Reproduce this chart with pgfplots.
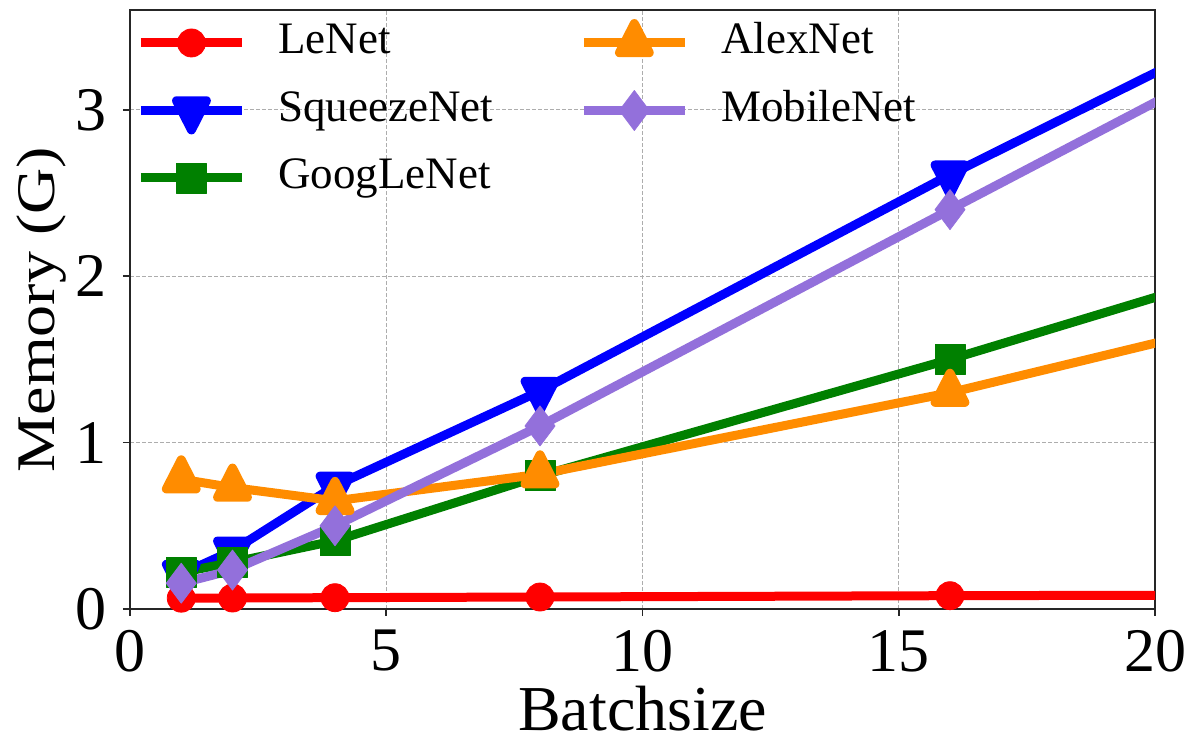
\documentclass[border=0pt]{standalone}
\usepackage{fontspec}
\setmainfont{Liberation Serif}
\usepackage{pgfplots}
\pgfplotsset{compat=1.18}

\definecolor{netred}{HTML}{FF0000}
\definecolor{netblue}{HTML}{0000FF}
\definecolor{netgreen}{HTML}{008000}
\definecolor{netorange}{HTML}{FF8C00}
\definecolor{netpurple}{HTML}{9370DB}

\pgfplotsset{
  netline/.style={line width=4.5pt, line join=round},
  netmark/.style={mark options={solid, line width=0.4pt, fill=#1, draw=#1}},
}

\begin{document}
\begin{tikzpicture}
\begin{axis}[
  scale only axis,
  width=512.5pt, height=299.5pt,
  xmin=0, xmax=20, ymin=0, ymax=3.6,
  xtick={0,5,10,15,20}, ytick={0,1,2,3},
  xtick pos=lower, ytick pos=left,
  tick align=outside, major tick length=3.5pt,
  grid=major,
  grid style={black!32, line width=0.5pt, dash pattern=on 2pt off 1pt},
  axis line style={black!85, line width=1pt},
  tick style={black!85, line width=0.8pt},
  /pgf/number format/assume math mode=true,
  ticklabel style={font=\rmfamily\fontsize{31}{37}\selectfont},
  xticklabel style={inner sep=0pt, anchor=north, yshift=-7pt},
  yticklabel style={inner sep=0pt, anchor=east, xshift=-8pt},
  xlabel={Batchsize}, ylabel={Memory (G)},
  label style={font=\rmfamily\fontsize{32}{38}\selectfont, inner sep=0pt},
  xlabel style={at={(axis description cs:0.5,-0.2030)}, anchor=base},
  ylabel style={at={(axis description cs:-0.0732,0.5)}, anchor=base, yscale=0.85},
  legend columns=2,
  legend cell align=left,
  legend image code/.code={%
    \draw[mark repeat=2, mark phase=2] plot coordinates {(0pt,0pt) (25.25pt,0pt) (50.5pt,0pt)};},
  legend style={
    at={(axis description cs:0.0063,0.98)}, anchor=north west,
    draw=none, fill=none, inner sep=0pt, outer sep=0pt,
    font=\rmfamily\fontsize{22.5}{27}\selectfont,
    row sep=12.75pt, column sep=16pt,
    nodes={inner sep=0pt, text height=16pt, text depth=5pt},
    /tikz/every even column/.append style={column sep=43pt},
  },
]
% memory use per batch size; the last point lies beyond the visible range
\addplot[forget plot, netline, color=netred, mark=*, mark size=7pt, netmark=netred]
  coordinates {(1,0.065) (2,0.066) (4,0.068) (8,0.072) (16,0.080) (32,0.090)};
\addplot[forget plot, netline, color=netblue, mark=triangle*, mark size=8.6pt, netmark=netblue, mark options={rotate=180, yscale=1.13}]
  coordinates {(1,0.21) (2,0.35) (4,0.74) (8,1.31) (16,2.61) (32,5.06)};
\addplot[forget plot, netline, color=netgreen, mark=square*, mark size=7.5pt, netmark=netgreen]
  coordinates {(1,0.22) (2,0.28) (4,0.41) (8,0.80) (16,1.50) (32,2.99)};
\addplot[forget plot, netline, color=netorange, mark=triangle*, mark size=8.6pt, netmark=netorange, mark options={yscale=1.13}]
  coordinates {(1,0.78) (2,0.73) (4,0.65) (8,0.81) (16,1.30) (32,2.49)};
\addplot[forget plot, netline, color=netpurple, mark=diamond*, mark size=10pt, netmark=netpurple]
  coordinates {(1,0.155) (2,0.234) (4,0.50) (8,1.10) (16,2.40) (32,4.98)};

% legend, filled row by row
\addlegendimage{netline, color=netred, mark=*, mark size=7pt, netmark=netred}
\addlegendentry{LeNet}
\addlegendimage{netline, color=netorange, mark=triangle*, mark size=8.6pt, netmark=netorange, mark options={yscale=1.13}}
\addlegendentry{AlexNet}
\addlegendimage{netline, color=netblue, mark=triangle*, mark size=8.6pt, netmark=netblue, mark options={rotate=180, yscale=1.13}}
\addlegendentry{SqueezeNet}
\addlegendimage{netline, color=netpurple, mark=diamond*, mark size=10pt, netmark=netpurple}
\addlegendentry{MobileNet}
\addlegendimage{netline, color=netgreen, mark=square*, mark size=7.5pt, netmark=netgreen}
\addlegendentry{GoogLeNet}

\coordinate (ll) at (rel axis cs:0,0);
\coordinate (ur) at (rel axis cs:1,1);
\end{axis}
\pgfresetboundingbox
\path ([shift={(-65pt,-63.5pt)}]ll) rectangle ([shift={(17pt,5pt)}]ur);
\end{tikzpicture}
\end{document}
